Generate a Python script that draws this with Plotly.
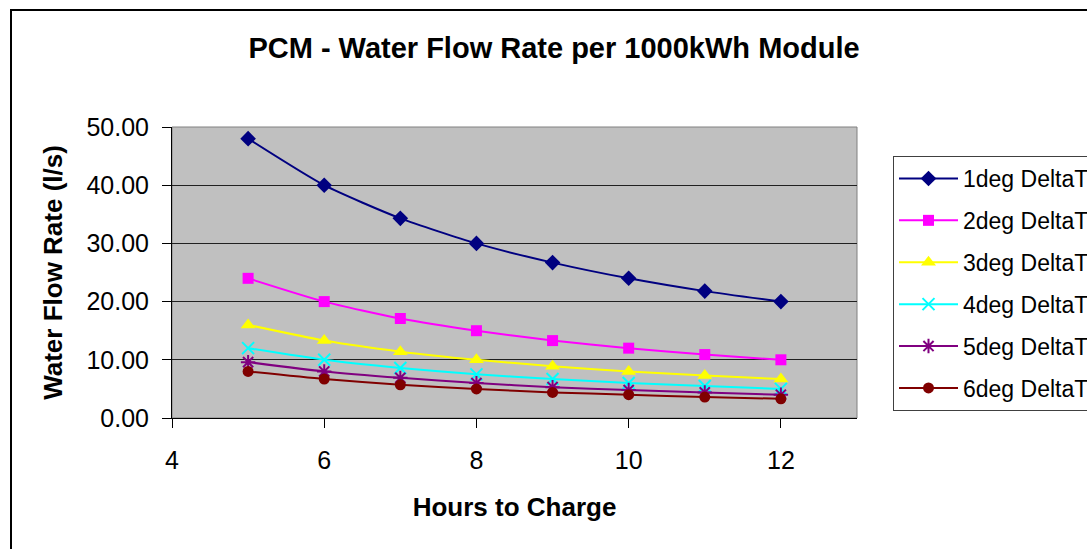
import plotly.graph_objects as go

hours = [5, 6, 7, 8, 9, 10, 11, 12]
deg1 = [48.0, 40.0, 34.3, 30.0, 26.7, 24.0, 21.8, 20.0]
deg2 = [24.0, 20.0, 17.1, 15.0, 13.3, 12.0, 10.9, 10.0]
deg3 = [16.0, 13.3, 11.4, 10.0, 8.9, 8.0, 7.3, 6.7]
deg4 = [12.0, 10.0, 8.6, 7.5, 6.7, 6.0, 5.5, 5.0]
deg5 = [9.6, 8.0, 6.9, 6.0, 5.3, 4.8, 4.4, 4.0]
deg6 = [8.0, 6.7, 5.7, 5.0, 4.4, 4.0, 3.6, 3.3]

series_names = ["1deg DeltaT", "2deg DeltaT", "3deg DeltaT",
                "4deg DeltaT", "5deg DeltaT", "6deg DeltaT"]
series_values = [deg1, deg2, deg3, deg4, deg5, deg6]
colors = ["#000080", "#FF00FF", "#FFFF00", "#00FFFF", "#800080", "#800000"]
symbols = ["diamond", "square", "triangle-up", "x-thin", "asterisk-open", "circle"]
sizes = [12, 11, 13, 12, 12, 11]

W, H = 1087, 549
L, R, T, B = 172, 857, 127, 418
pw, ph = R - L, B - T

fig = go.Figure()
for i, (name, vals) in enumerate(zip(series_names, series_values)):
    thin = symbols[i] in ("x-thin", "asterisk-open")
    fig.add_trace(go.Scatter(
        x=hours, y=vals, name=name, mode="lines+markers",
        line=dict(color=colors[i], width=2, shape="spline", smoothing=0.6),
        marker=dict(symbol=symbols[i], size=sizes[i], color=colors[i],
                    line=dict(color=colors[i], width=2 if thin else 0)),
        legendgroup=f"g{i}",
    ))

fig.update_layout(
    width=W, height=H,
    margin=dict(l=L, r=W - R, t=T, b=H - B, autoexpand=False),
    paper_bgcolor="white", plot_bgcolor="#C0C0C0",
    font=dict(family="Liberation Sans, Arial, sans-serif", color="black", size=25),
    title=dict(text="<b>PCM - Water Flow Rate per 1000kWh Module</b>",
               x=554 / W, xanchor="center", y=1 - 48 / H, yanchor="middle",
               font=dict(size=29)),
    showlegend=True,
    legend=dict(x=(893 - L) / pw, xanchor="left", y=(B - 156) / ph, yanchor="top",
                bgcolor="white", bordercolor="#404040", borderwidth=1,
                font=dict(size=23), tracegroupgap=9, traceorder="grouped",
                itemwidth=59),
    xaxis=dict(range=[4, 13], tickmode="array", tickvals=[4, 6, 8, 10, 12],
               ticks="outside", ticklen=9, tickcolor="black", showgrid=False,
               showline=True, linecolor="black", linewidth=1, mirror=False,
               zeroline=False, tickfont=dict(size=25), ticklabelstandoff=11,
               title=dict(text="<b>Hours to Charge</b>", font=dict(size=26), standoff=24)),
    yaxis=dict(range=[0, 50], tickmode="array", tickvals=[0, 10, 20, 30, 40, 50],
               tickformat=".2f", ticks="outside", ticklen=9, tickcolor="black",
               showgrid=True, gridcolor="#202020", gridwidth=1,
               showline=True, linecolor="black", linewidth=1,
               zeroline=False, tickfont=dict(size=25), ticklabelstandoff=8,
               title=dict(text="<b>Water Flow Rate (l/s)</b>", font=dict(size=26), standoff=16)),
)

# plot area top/right border (gray)
fig.add_shape(type="rect", xref="paper", yref="paper", x0=0, y0=0, x1=1, y1=1,
              line=dict(color="#808080", width=1), layer="below")
# outer chart border
fig.add_shape(type="rect", xref="paper", yref="paper",
              x0=(11 - L) / pw, y0=(B - 10) / ph, x1=(W + 20 - L) / pw,
              y1=(B - (H + 20)) / ph,
              line=dict(color="black", width=2))

fig.write_html("out.html", config={"displayModeBar": False},
               post_script="document.body.style.margin='0px';document.body.style.overflow='hidden';")
